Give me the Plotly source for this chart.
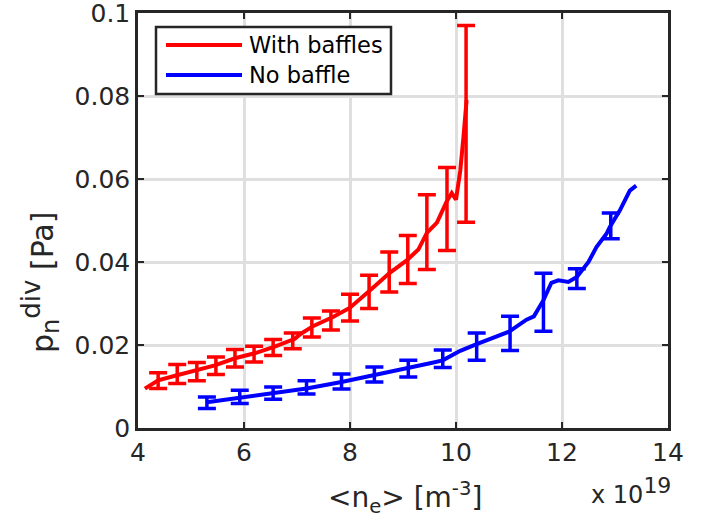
import plotly.graph_objects as go

# Divertor neutral pressure vs line-averaged density (x axis in units of 1e19 m^-3)

# --- With baffles: continuous trace
baffle_ne = [4.13, 4.38, 4.70, 5.08, 5.45, 5.83, 6.20, 6.58, 6.96, 7.06, 7.31, 7.69,
             8.00, 8.38, 8.57, 8.75, 9.07, 9.29, 9.45, 9.64, 9.82, 9.92, 10.00,
             10.08, 10.14, 10.17, 10.20]
baffle_p = [0.0095, 0.0115, 0.0126, 0.0139, 0.0151, 0.0168, 0.0180, 0.0196, 0.0215,
            0.0226, 0.0246, 0.0268, 0.0290, 0.0332, 0.0354, 0.0374, 0.0404, 0.0430,
            0.0470, 0.0495, 0.0545, 0.0566, 0.0550, 0.0620, 0.0700, 0.0750, 0.0790]

# --- With baffles: binned means and spread
baffle_bin_ne = [4.38, 4.74, 5.11, 5.47, 5.83, 6.19, 6.55, 6.92, 7.28, 7.64, 8.00,
                 8.36, 8.74, 9.09, 9.45, 9.83, 10.19]
baffle_bin_p = [0.0114, 0.0130, 0.0136, 0.0150, 0.0168, 0.0178, 0.0194, 0.0210,
                0.0242, 0.0259, 0.0290, 0.0328, 0.0376, 0.0406, 0.0472, 0.0528, 0.0733]
baffle_bin_err = [0.0019, 0.0023, 0.0022, 0.0021, 0.0021, 0.0019, 0.0019, 0.0019,
                  0.0023, 0.0023, 0.0032, 0.0040, 0.0048, 0.0058, 0.0090, 0.0100, 0.0237]

# --- No baffle: continuous trace
open_ne = [5.30, 5.92, 6.55, 7.18, 7.84, 8.46, 8.75, 9.10, 9.51, 9.75, 10.08, 10.39,
           10.70, 11.00, 11.33, 11.47, 11.65, 11.80, 11.93, 12.12, 12.28, 12.50,
           12.65, 12.84, 12.90, 13.09, 13.28, 13.40]
open_p = [0.0062, 0.0073, 0.0083, 0.0095, 0.0111, 0.0127, 0.0134, 0.0143, 0.0156,
          0.0163, 0.0186, 0.0202, 0.0216, 0.0232, 0.0261, 0.0269, 0.0308, 0.0350,
          0.0356, 0.0352, 0.0364, 0.0400, 0.0436, 0.0468, 0.0484, 0.0524, 0.0572, 0.0584]

# --- No baffle: binned means and spread
open_bin_ne = [5.30, 5.92, 6.55, 7.18, 7.84, 8.46, 9.10, 9.75, 10.39, 11.02, 11.65,
               12.28, 12.92]
open_bin_p = [0.0061, 0.0075, 0.0084, 0.0098, 0.0112, 0.0129, 0.0143, 0.0167, 0.0196,
              0.0228, 0.0303, 0.0360, 0.0487]
open_bin_err = [0.0014, 0.0016, 0.0015, 0.0016, 0.0018, 0.0018, 0.0020, 0.0021,
                0.0033, 0.0041, 0.0070, 0.0024, 0.0031]

x_ticks = [4, 6, 8, 10, 12, 14]
y_ticks = [0, 0.02, 0.04, 0.06, 0.08, 0.1]
y_tick_text = ["0", "0.02", "0.04", "0.06", "0.08", "0.1"]

series_names = ["With baffles", "No baffle"]
RED = "#ff0000"
BLUE = "#0000ff"
AXIS = "#262626"
GRID = "rgb(223,223,223)"
FONT = "DejaVu Sans"

fig = go.Figure()

for ne, p, ne_b, p_b, err, col in [
    (baffle_ne, baffle_p, baffle_bin_ne, baffle_bin_p, baffle_bin_err, RED),
    (open_ne, open_p, open_bin_ne, open_bin_p, open_bin_err, BLUE),
]:
    fig.add_trace(go.Scatter(x=ne, y=p, mode="lines",
                             line=dict(color=col, width=4), showlegend=False))
    fig.add_trace(go.Scatter(x=ne_b, y=p_b, mode="markers",
                             marker=dict(size=1, color=col),
                             error_y=dict(type="data", array=err, visible=True,
                                          color=col, thickness=3.5, width=9),
                             showlegend=False))

axis_common = dict(
    showline=True, linecolor=AXIS, linewidth=2.5, mirror="allticks",
    ticks="inside", ticklen=6, tickwidth=2, tickcolor=AXIS,
    showgrid=True, gridcolor=GRID, gridwidth=2.5, zeroline=False,
    tickfont=dict(family=FONT, size=25, color=AXIS),
    ticklabeloverflow="allow",
)

fig.update_xaxes(range=[4, 14], tickvals=x_ticks, **axis_common)
fig.update_yaxes(range=[0, 0.1], tickvals=y_ticks, ticktext=y_tick_text, **axis_common)

# plot-area pixel geometry helpers for the hand-built legend and labels
L, R, T, B, W, H = 138, 40, 13, 95, 708, 523
PW, PH = W - L - R, H - T - B


def px_x(px):
    return (px - L) / PW


def px_y(py):
    return (H - B - py) / PH


shapes = [
    dict(type="rect", xref="paper", yref="paper",
         x0=px_x(156), x1=px_x(391), y0=px_y(94), y1=px_y(27),
         line=dict(color=AXIS, width=2.5), fillcolor="white", layer="above"),
]
annotations = []
for name, col, py in zip(series_names, [RED, BLUE], [45, 75]):
    shapes.append(dict(type="line", xref="paper", yref="paper",
                       x0=px_x(166), x1=px_x(242), y0=px_y(py), y1=px_y(py),
                       line=dict(color=col, width=4), layer="above"))
    annotations.append(dict(text=name, xref="paper", yref="paper",
                            x=px_x(247), y=px_y(py), xanchor="left", yanchor="middle",
                            showarrow=False, font=dict(family=FONT, size=22.5, color="#000000")))

annotations += [
    dict(text="&lt;n<sub>e</sub>&gt; [m<sup>-3</sup>]", xref="paper", yref="paper",
         x=px_x(405), y=px_y(497), xanchor="center", yanchor="middle", showarrow=False,
         font=dict(family=FONT, size=28, color=AXIS)),
    dict(text="p<sub><span style='font-size:24px'>n</span></sub>"
              "<sup><span style='font-size:26px'>div</span></sup> [Pa]",
         xref="paper", yref="paper",
         x=px_x(40), y=px_y(283), xanchor="center", yanchor="middle", textangle=-90,
         showarrow=False, font=dict(family=FONT, size=30, color=AXIS)),
    dict(text="x 10<sup><span style='font-size:22px'>19</span></sup>",
         xref="paper", yref="paper",
         x=px_x(589), y=px_y(491), xanchor="left", yanchor="middle", showarrow=False,
         font=dict(family=FONT, size=24, color=AXIS)),
]

fig.update_layout(
    width=W, height=H,
    margin=dict(l=L, r=R, t=T, b=B, autoexpand=False),
    paper_bgcolor="white", plot_bgcolor="white",
    showlegend=False,
    shapes=shapes, annotations=annotations,
    font=dict(family=FONT, color=AXIS),
)

fig.write_html("out.html")
